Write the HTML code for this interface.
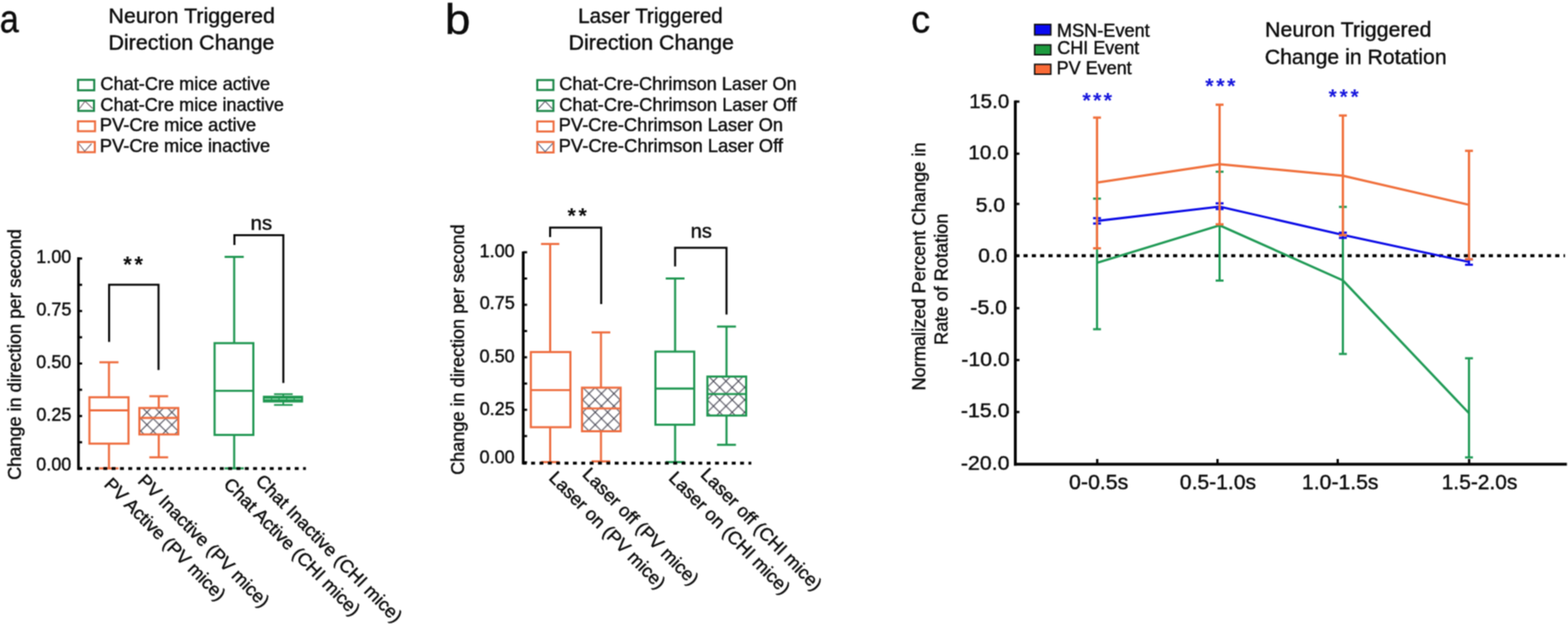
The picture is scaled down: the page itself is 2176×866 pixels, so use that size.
<!DOCTYPE html><html><head><meta charset="utf-8"><style>html,body{margin:0;padding:0;background:#fff;}svg{display:block;}text{font-family:"Liberation Sans", Arial, sans-serif;stroke:#0c0c0c;stroke-width:0.55px;}</style></head><body>
<svg width="2176" height="866" viewBox="0 0 2176 866">
<rect width="2176" height="866" fill="#fff"/>
<filter id="soft" filterUnits="userSpaceOnUse" x="0" y="0" width="2176" height="866" color-interpolation-filters="sRGB"><feConvolveMatrix order="3" kernelMatrix="1 2 1 2 4 2 1 2 1" edgeMode="duplicate"/></filter>
<g filter="url(#soft)">
<defs><pattern id="hatch" patternUnits="userSpaceOnUse" x="221.2" y="572.2" width="17.28" height="17.28"><path d="M-1,-1 L18.28,18.28 M18.28,-1 L-1,18.28" stroke="#3c3c4a" stroke-width="1.3" fill="none"/></pattern></defs>
<text x="-0.31" y="45.1" font-size="56" fill="#0c0c0c" textLength="26.31" lengthAdjust="spacingAndGlyphs">a</text>
<text x="150.48" y="31.7" font-size="29.3" fill="#0c0c0c" textLength="230.92" lengthAdjust="spacingAndGlyphs">Neuron Triggered</text>
<text x="150.45" y="69.3" font-size="29.3" fill="#0c0c0c" textLength="230.37" lengthAdjust="spacingAndGlyphs">Direction Change</text>
<rect x="108.3" y="110.8" width="22.5" height="14.5" fill="none" stroke="#178545" stroke-width="2.8"/>
<rect x="108.7" y="139.6" width="21.7" height="14.3" fill="none" stroke="#178545" stroke-width="2.8"/>
<polyline points="109.7,151.5 118,140.3 128.5,150.5" fill="none" stroke="#6a5560" stroke-width="1.2"/>
<rect x="108.2" y="168.4" width="23.7" height="13.7" fill="none" stroke="#EE6C3E" stroke-width="2.8"/>
<rect x="108.2" y="197" width="23.4" height="14.2" fill="none" stroke="#EE6C3E" stroke-width="2.8"/>
<polyline points="109.5,199.5 117.5,209.8 127,199.5" fill="none" stroke="#6a5560" stroke-width="1.2"/>
<text x="139.22" y="125.4" font-size="25" fill="#0c0c0c" textLength="235.6" lengthAdjust="spacingAndGlyphs">Chat-Cre mice active</text>
<text x="139.22" y="154" font-size="25" fill="#0c0c0c" textLength="254.9" lengthAdjust="spacingAndGlyphs">Chat-Cre mice inactive</text>
<text x="138.42" y="181.8" font-size="25" fill="#0c0c0c" textLength="217.01" lengthAdjust="spacingAndGlyphs">PV-Cre mice active</text>
<text x="138.42" y="210.8" font-size="25" fill="#0c0c0c" textLength="236.4" lengthAdjust="spacingAndGlyphs">PV-Cre mice inactive</text>
<line x1="108.9" y1="357" x2="108.9" y2="652.2" stroke="#050505" stroke-width="3.6"/>
<line x1="108.9" y1="358.8" x2="114" y2="358.8" stroke="#050505" stroke-width="3"/>
<line x1="108.9" y1="395.23" x2="114" y2="395.23" stroke="#050505" stroke-width="3"/>
<line x1="108.9" y1="431.65" x2="114" y2="431.65" stroke="#050505" stroke-width="3"/>
<line x1="108.9" y1="468.08" x2="114" y2="468.08" stroke="#050505" stroke-width="3"/>
<line x1="108.9" y1="504.5" x2="114" y2="504.5" stroke="#050505" stroke-width="3"/>
<line x1="108.9" y1="540.93" x2="114" y2="540.93" stroke="#050505" stroke-width="3"/>
<line x1="108.9" y1="577.35" x2="114" y2="577.35" stroke="#050505" stroke-width="3"/>
<line x1="108.9" y1="613.78" x2="114" y2="613.78" stroke="#050505" stroke-width="3"/>
<line x1="108.9" y1="650.2" x2="114" y2="650.2" stroke="#050505" stroke-width="3"/>
<text x="50.32" y="365.2" font-size="25" fill="#0c0c0c">1.00</text>
<text x="50.39" y="438.2" font-size="25" fill="#0c0c0c">0.75</text>
<text x="50.32" y="510.8" font-size="25" fill="#0c0c0c">0.50</text>
<text x="50.39" y="584.4" font-size="25" fill="#0c0c0c">0.25</text>
<text x="50.32" y="652.9" font-size="25" fill="#0c0c0c">0.00</text>
<text transform="translate(28.6 666.08) rotate(-90)" x="0" y="0" font-size="25" fill="#0c0c0c" textLength="348" lengthAdjust="spacingAndGlyphs">Change in direction per second</text>
<line x1="151.2" y1="502.8" x2="151.2" y2="551.3" stroke="#EE6C3E" stroke-width="2.9"/>
<line x1="151.2" y1="615.7" x2="151.2" y2="650" stroke="#EE6C3E" stroke-width="2.9"/>
<line x1="137.95" y1="502.8" x2="164.45" y2="502.8" stroke="#EE6C3E" stroke-width="2.9"/>
<line x1="137.95" y1="650" x2="164.45" y2="650" stroke="#EE6C3E" stroke-width="2.9"/>
<rect x="124.1" y="551.3" width="54.2" height="64.4" fill="none" stroke="#EE6C3E" stroke-width="2.9"/>
<line x1="124.1" y1="569.5" x2="178.3" y2="569.5" stroke="#EE6C3E" stroke-width="2.9"/>
<line x1="220.3" y1="549.9" x2="220.3" y2="566.2" stroke="#EE6C3E" stroke-width="2.9"/>
<line x1="220.3" y1="602.9" x2="220.3" y2="634.7" stroke="#EE6C3E" stroke-width="2.9"/>
<line x1="207.25" y1="549.9" x2="233.35" y2="549.9" stroke="#EE6C3E" stroke-width="2.9"/>
<line x1="207.25" y1="634.7" x2="233.35" y2="634.7" stroke="#EE6C3E" stroke-width="2.9"/>
<rect x="193.4" y="566.2" width="54" height="36.7" fill="url(#hatch)"/>
<rect x="193.4" y="566.2" width="54" height="36.7" fill="none" stroke="#EE6C3E" stroke-width="2.9"/>
<line x1="193.4" y1="580" x2="247.4" y2="580" stroke="#EE6C3E" stroke-width="2.9"/>
<line x1="325" y1="356.5" x2="325" y2="476.2" stroke="#1E9650" stroke-width="2.9"/>
<line x1="325" y1="603.6" x2="325" y2="650" stroke="#1E9650" stroke-width="2.9"/>
<line x1="311.7" y1="356.5" x2="338.3" y2="356.5" stroke="#1E9650" stroke-width="2.9"/>
<line x1="311.7" y1="650" x2="338.3" y2="650" stroke="#1E9650" stroke-width="2.9"/>
<rect x="297.8" y="476.2" width="53.8" height="127.4" fill="none" stroke="#1E9650" stroke-width="2.9"/>
<line x1="297.8" y1="542.4" x2="351.6" y2="542.4" stroke="#1E9650" stroke-width="2.9"/>
<line x1="393.1" y1="547" x2="393.1" y2="562" stroke="#1E9650" stroke-width="2.2"/>
<line x1="380.3" y1="547" x2="406.2" y2="547" stroke="#1E9650" stroke-width="2.4"/>
<line x1="380.3" y1="562" x2="406.2" y2="562" stroke="#1E9650" stroke-width="2.4"/>
<rect x="364.8" y="549.2" width="55.8" height="9.4" fill="#1E9650"/>
<line x1="367" y1="553.6" x2="418" y2="553.6" stroke="#a8e6bd" stroke-width="1.3" stroke-dasharray="9 1.5"/>
<line x1="108" y1="650.3" x2="424.5" y2="650.3" stroke="#000" stroke-width="4" stroke-dasharray="5.4 6.15" stroke-dashoffset="10.8"/>
<polyline points="151.4,474.4 151.4,395.2 220,395.2 220,513.6" fill="none" stroke="#050505" stroke-width="2.8" stroke-linejoin="miter" stroke-linecap="butt"/>
<polyline points="325.3,339.9 325.3,326.4 393.2,326.4 393.2,531.6" fill="none" stroke="#050505" stroke-width="2.8" stroke-linejoin="miter" stroke-linecap="butt"/>
<text x="171.01 186.41" y="378.28" font-size="30.64" font-weight="bold" fill="#0c0c0c" style="stroke:none">**</text>
<text x="347.72" y="319.1" font-size="27.5" fill="#0c0c0c" textLength="29.9" lengthAdjust="spacingAndGlyphs">ns</text>
<text transform="translate(143.3 673.5) rotate(45.4)" x="0" y="0" font-size="25.4" fill="#0c0c0c">PV Active (PV mice)</text>
<text transform="translate(190.1 668.7) rotate(45.4)" x="0" y="0" font-size="25.4" fill="#0c0c0c">PV Inactive (PV mice)</text>
<text transform="translate(309.1 673.5) rotate(45.4)" x="0" y="0" font-size="25.4" fill="#0c0c0c">Chat Active (CHI mice)</text>
<text transform="translate(353.5 668.7) rotate(45.4)" x="0" y="0" font-size="25.4" fill="#0c0c0c">Chat Inactive (CHI mice)</text>
<text x="617.6" y="46.9" font-size="60" fill="#0c0c0c" textLength="35.37" lengthAdjust="spacingAndGlyphs">b</text>
<text x="802.27" y="31.7" font-size="29.3" fill="#0c0c0c" textLength="200.77" lengthAdjust="spacingAndGlyphs">Laser Triggered</text>
<text x="789.06" y="69.3" font-size="29.3" fill="#0c0c0c" textLength="229.56" lengthAdjust="spacingAndGlyphs">Direction Change</text>
<rect x="745.6" y="111.1" width="22.4" height="13.8" fill="none" stroke="#178545" stroke-width="2.8"/>
<rect x="745.6" y="139.5" width="22.4" height="14.5" fill="none" stroke="#178545" stroke-width="2.8"/>
<polyline points="746.5,151.5 756.5,140.5 766.5,151" fill="none" stroke="#555560" stroke-width="1.2"/>
<rect x="745.6" y="168.6" width="22.6" height="13.9" fill="none" stroke="#EE6C3E" stroke-width="2.8"/>
<rect x="745.6" y="197" width="22.6" height="14.6" fill="none" stroke="#EE6C3E" stroke-width="2.8"/>
<polyline points="746.5,199 756.5,210.5 767,199" fill="none" stroke="#556080" stroke-width="1.2"/>
<text x="776.12" y="125.4" font-size="25" fill="#0c0c0c" textLength="329.52" lengthAdjust="spacingAndGlyphs">Chat-Cre-Chrimson Laser On</text>
<text x="776.12" y="153.8" font-size="25" fill="#0c0c0c" textLength="329.54" lengthAdjust="spacingAndGlyphs">Chat-Cre-Chrimson Laser Off</text>
<text x="775.32" y="182.3" font-size="25" fill="#0c0c0c" textLength="311.33" lengthAdjust="spacingAndGlyphs">PV-Cre-Chrimson Laser On</text>
<text x="775.32" y="210.7" font-size="25" fill="#0c0c0c" textLength="311.34" lengthAdjust="spacingAndGlyphs">PV-Cre-Chrimson Laser Off</text>
<line x1="726.1" y1="349" x2="726.1" y2="644.4" stroke="#050505" stroke-width="3.8"/>
<line x1="726.1" y1="350.1" x2="731.5" y2="350.1" stroke="#050505" stroke-width="3"/>
<line x1="726.1" y1="386.54" x2="731.5" y2="386.54" stroke="#050505" stroke-width="3"/>
<line x1="726.1" y1="422.98" x2="731.5" y2="422.98" stroke="#050505" stroke-width="3"/>
<line x1="726.1" y1="459.41" x2="731.5" y2="459.41" stroke="#050505" stroke-width="3"/>
<line x1="726.1" y1="495.85" x2="731.5" y2="495.85" stroke="#050505" stroke-width="3"/>
<line x1="726.1" y1="532.29" x2="731.5" y2="532.29" stroke="#050505" stroke-width="3"/>
<line x1="726.1" y1="568.73" x2="731.5" y2="568.73" stroke="#050505" stroke-width="3"/>
<line x1="726.1" y1="605.16" x2="731.5" y2="605.16" stroke="#050505" stroke-width="3"/>
<line x1="726.1" y1="641.6" x2="731.5" y2="641.6" stroke="#050505" stroke-width="3"/>
<text x="665.62" y="356.5" font-size="25" fill="#0c0c0c">1.00</text>
<text x="665.69" y="428.8" font-size="25" fill="#0c0c0c">0.75</text>
<text x="665.62" y="502.9" font-size="25" fill="#0c0c0c">0.50</text>
<text x="665.69" y="576" font-size="25" fill="#0c0c0c">0.25</text>
<text x="665.62" y="642.6" font-size="25" fill="#0c0c0c">0.00</text>
<text transform="translate(643.5 659.08) rotate(-90)" x="0" y="0" font-size="25" fill="#0c0c0c" textLength="347.9" lengthAdjust="spacingAndGlyphs">Change in direction per second</text>
<line x1="763.5" y1="338.6" x2="763.5" y2="488.6" stroke="#EE6C3E" stroke-width="2.9"/>
<line x1="763.5" y1="592.9" x2="763.5" y2="641.3" stroke="#EE6C3E" stroke-width="2.9"/>
<line x1="750.8" y1="338.6" x2="776.2" y2="338.6" stroke="#EE6C3E" stroke-width="2.9"/>
<line x1="750.8" y1="641.3" x2="776.2" y2="641.3" stroke="#EE6C3E" stroke-width="2.9"/>
<rect x="736.7" y="488.6" width="54.9" height="104.3" fill="none" stroke="#EE6C3E" stroke-width="2.9"/>
<line x1="736.7" y1="541.4" x2="791.6" y2="541.4" stroke="#EE6C3E" stroke-width="2.9"/>
<line x1="834" y1="461.3" x2="834" y2="538" stroke="#EE6C3E" stroke-width="2.9"/>
<line x1="834" y1="598.5" x2="834" y2="640.3" stroke="#EE6C3E" stroke-width="2.9"/>
<line x1="821.05" y1="461.3" x2="846.95" y2="461.3" stroke="#EE6C3E" stroke-width="2.9"/>
<line x1="821.05" y1="640.3" x2="846.95" y2="640.3" stroke="#EE6C3E" stroke-width="2.9"/>
<rect x="807.7" y="538" width="53.6" height="60.5" fill="url(#hatch)"/>
<rect x="807.7" y="538" width="53.6" height="60.5" fill="none" stroke="#EE6C3E" stroke-width="2.9"/>
<line x1="807.7" y1="566.9" x2="861.3" y2="566.9" stroke="#EE6C3E" stroke-width="2.9"/>
<line x1="936.9" y1="386.5" x2="936.9" y2="488" stroke="#1E9650" stroke-width="2.9"/>
<line x1="936.9" y1="589.4" x2="936.9" y2="641.3" stroke="#1E9650" stroke-width="2.9"/>
<line x1="923.85" y1="386.5" x2="949.95" y2="386.5" stroke="#1E9650" stroke-width="2.9"/>
<line x1="923.85" y1="641.3" x2="949.95" y2="641.3" stroke="#1E9650" stroke-width="2.9"/>
<rect x="909.6" y="488" width="53.8" height="101.4" fill="none" stroke="#1E9650" stroke-width="2.9"/>
<line x1="909.6" y1="539.3" x2="963.4" y2="539.3" stroke="#1E9650" stroke-width="2.9"/>
<line x1="1008.2" y1="453.2" x2="1008.2" y2="522.6" stroke="#1E9650" stroke-width="2.9"/>
<line x1="1008.2" y1="576.7" x2="1008.2" y2="617.3" stroke="#1E9650" stroke-width="2.9"/>
<line x1="995.05" y1="453.2" x2="1021.35" y2="453.2" stroke="#1E9650" stroke-width="2.9"/>
<line x1="995.05" y1="617.3" x2="1021.35" y2="617.3" stroke="#1E9650" stroke-width="2.9"/>
<rect x="981.7" y="522.6" width="53.8" height="54.1" fill="url(#hatch)"/>
<rect x="981.7" y="522.6" width="53.8" height="54.1" fill="none" stroke="#1E9650" stroke-width="2.9"/>
<line x1="981.7" y1="546.9" x2="1035.5" y2="546.9" stroke="#1E9650" stroke-width="2.9"/>
<line x1="726" y1="642.7" x2="1042.6" y2="642.7" stroke="#000" stroke-width="4" stroke-dasharray="5.4 6.2" stroke-dashoffset="0.5"/>
<polyline points="763.4,329 763.4,315.8 834.3,315.8 834.3,422" fill="none" stroke="#050505" stroke-width="2.8" stroke-linejoin="miter" stroke-linecap="butt"/>
<polyline points="936.9,369.7 936.9,343.8 1008.2,343.8 1008.2,436.6" fill="none" stroke="#050505" stroke-width="2.8" stroke-linejoin="miter" stroke-linecap="butt"/>
<text x="787.51 802.72" y="309.32" font-size="29.83" font-weight="bold" fill="#0c0c0c" style="stroke:none">**</text>
<text x="958.55" y="329.7" font-size="27.5" fill="#0c0c0c" textLength="29.46" lengthAdjust="spacingAndGlyphs">ns</text>
<text transform="translate(760.6 664.4) rotate(45.4)" x="0" y="0" font-size="25.4" fill="#0c0c0c">Laser on (PV mice)</text>
<text transform="translate(807 659.5) rotate(45.4)" x="0" y="0" font-size="25.4" fill="#0c0c0c">Laser off (PV mice)</text>
<text transform="translate(926.8 664.7) rotate(45.4)" x="0" y="0" font-size="25.4" fill="#0c0c0c">Laser on (CHI mice)</text>
<text transform="translate(971.1 659.9) rotate(45.4)" x="0" y="0" font-size="25.4" fill="#0c0c0c">Laser off (CHI mice)</text>
<text x="1264.56" y="45.3" font-size="54.5" fill="#0c0c0c" textLength="26.32" lengthAdjust="spacingAndGlyphs">c</text>
<text x="1755.58" y="50.9" font-size="28.6" fill="#0c0c0c" textLength="230.81" lengthAdjust="spacingAndGlyphs">Neuron Triggered</text>
<text x="1755.2" y="88.8" font-size="28.6" fill="#0c0c0c" textLength="252.41" lengthAdjust="spacingAndGlyphs">Change in Rotation</text>
<rect x="1435.8" y="33.9" width="22.5" height="14.6" fill="#0a0af0" stroke="#111" stroke-width="2"/>
<rect x="1435.8" y="62.3" width="22.5" height="13.7" fill="#1d9a3e" stroke="#111" stroke-width="2"/>
<rect x="1435.8" y="89.3" width="22.5" height="13.7" fill="#fa6a36" stroke="#111" stroke-width="2"/>
<text x="1466.63" y="51" font-size="25" fill="#0c0c0c" textLength="128.95" lengthAdjust="spacingAndGlyphs">MSN-Event</text>
<text x="1467.13" y="75.3" font-size="25" fill="#0c0c0c">CHI Event</text>
<text x="1466.35" y="102.5" font-size="25" fill="#0c0c0c">PV Event</text>
<line x1="1409" y1="139.5" x2="1409" y2="646.2" stroke="#050505" stroke-width="4"/>
<line x1="1407" y1="644.3" x2="2174.5" y2="644.3" stroke="#050505" stroke-width="4"/>
<line x1="1409" y1="141" x2="1414.7" y2="141" stroke="#050505" stroke-width="3.2"/>
<line x1="1409" y1="213.3" x2="1414.7" y2="213.3" stroke="#050505" stroke-width="3.2"/>
<line x1="1409" y1="283" x2="1414.7" y2="283" stroke="#050505" stroke-width="3.2"/>
<line x1="1409" y1="355" x2="1414.7" y2="355" stroke="#050505" stroke-width="3.2"/>
<line x1="1409" y1="427.7" x2="1414.7" y2="427.7" stroke="#050505" stroke-width="3.2"/>
<line x1="1409" y1="499.7" x2="1414.7" y2="499.7" stroke="#050505" stroke-width="3.2"/>
<line x1="1409" y1="571.8" x2="1414.7" y2="571.8" stroke="#050505" stroke-width="3.2"/>
<line x1="1522.7" y1="637" x2="1522.7" y2="644" stroke="#050505" stroke-width="3.2"/>
<line x1="1689.6" y1="637" x2="1689.6" y2="644" stroke="#050505" stroke-width="3.2"/>
<line x1="1856.4" y1="637" x2="1856.4" y2="644" stroke="#050505" stroke-width="3.2"/>
<line x1="2038.8" y1="637" x2="2038.8" y2="644" stroke="#050505" stroke-width="3.2"/>
<text x="1345.02" y="150.2" font-size="28.5" fill="#0c0c0c">15.0</text>
<text x="1343.7" y="221.3" font-size="28.5" fill="#0c0c0c" textLength="56.23" lengthAdjust="spacingAndGlyphs">10.0</text>
<text x="1353.92" y="293.6" font-size="28.5" fill="#0c0c0c" textLength="41.03" lengthAdjust="spacingAndGlyphs">5.0</text>
<text x="1357.46" y="363.6" font-size="28.5" fill="#0c0c0c" textLength="40.69" lengthAdjust="spacingAndGlyphs">0.0</text>
<text x="1346.59" y="436.4" font-size="28.5" fill="#0c0c0c" textLength="50.86" lengthAdjust="spacingAndGlyphs">-5.0</text>
<text x="1334.09" y="507.7" font-size="28.5" fill="#0c0c0c" textLength="67.16" lengthAdjust="spacingAndGlyphs">-10.0</text>
<text x="1333.48" y="579.4" font-size="28.5" fill="#0c0c0c" textLength="67.58" lengthAdjust="spacingAndGlyphs">-15.0</text>
<text x="1333.48" y="652.3" font-size="28.5" fill="#0c0c0c" textLength="67.58" lengthAdjust="spacingAndGlyphs">-20.0</text>
<text x="1483.64" y="679.2" font-size="28.8" fill="#0c0c0c" textLength="82.22" lengthAdjust="spacingAndGlyphs">0-0.5s</text>
<text x="1637.36" y="679.2" font-size="28.8" fill="#0c0c0c" textLength="105.7" lengthAdjust="spacingAndGlyphs">0.5-1.0s</text>
<text x="1806.86" y="679.2" font-size="28.8" fill="#0c0c0c" textLength="106.1" lengthAdjust="spacingAndGlyphs">1.0-1.5s</text>
<text x="2000.68" y="679.2" font-size="28.8" fill="#0c0c0c" textLength="105.17" lengthAdjust="spacingAndGlyphs">1.5-2.0s</text>
<text transform="translate(1284 542.07) rotate(-90)" x="0" y="0" font-size="25" fill="#0c0c0c" textLength="344.42" lengthAdjust="spacingAndGlyphs">Normalized Percent Change in</text>
<text transform="translate(1315.2 478.67) rotate(-90)" x="0" y="0" font-size="25" fill="#0c0c0c" textLength="182.31" lengthAdjust="spacingAndGlyphs">Rate of Rotation</text>
<line x1="1409" y1="354.8" x2="2171.8" y2="354.8" stroke="#000" stroke-width="4.2" stroke-dasharray="5.7 5.83" stroke-dashoffset="0.13"/>
<line x1="1522.4" y1="275.7" x2="1522.4" y2="456.9" stroke="#1F9A55" stroke-width="3"/>
<line x1="1516.9" y1="275.7" x2="1527.9" y2="275.7" stroke="#1F9A55" stroke-width="3"/>
<line x1="1516.9" y1="456.9" x2="1527.9" y2="456.9" stroke="#1F9A55" stroke-width="3"/>
<line x1="1692.5" y1="238.3" x2="1692.5" y2="389.4" stroke="#1F9A55" stroke-width="3"/>
<line x1="1687" y1="238.3" x2="1698" y2="238.3" stroke="#1F9A55" stroke-width="3"/>
<line x1="1687" y1="389.4" x2="1698" y2="389.4" stroke="#1F9A55" stroke-width="3"/>
<line x1="1863.6" y1="287.1" x2="1863.6" y2="491.2" stroke="#1F9A55" stroke-width="3"/>
<line x1="1858.1" y1="287.1" x2="1869.1" y2="287.1" stroke="#1F9A55" stroke-width="3"/>
<line x1="1858.1" y1="491.2" x2="1869.1" y2="491.2" stroke="#1F9A55" stroke-width="3"/>
<line x1="2038.6" y1="497.2" x2="2038.6" y2="634.8" stroke="#1F9A55" stroke-width="3"/>
<line x1="2033.1" y1="497.2" x2="2044.1" y2="497.2" stroke="#1F9A55" stroke-width="3"/>
<line x1="2033.1" y1="634.8" x2="2044.1" y2="634.8" stroke="#1F9A55" stroke-width="3"/>
<polyline points="1522.4,364.8 1692.5,312.7 1863.6,389.1 2038.6,573.5" fill="none" stroke="#1F9A55" stroke-width="3.2" stroke-linejoin="round"/>
<line x1="1522.4" y1="302.8" x2="1522.4" y2="310.2" stroke="#0b0be6" stroke-width="3"/>
<line x1="1516.9" y1="302.8" x2="1527.9" y2="302.8" stroke="#0b0be6" stroke-width="3"/>
<line x1="1516.9" y1="310.2" x2="1527.9" y2="310.2" stroke="#0b0be6" stroke-width="3"/>
<line x1="1692.5" y1="282.2" x2="1692.5" y2="290.1" stroke="#0b0be6" stroke-width="3"/>
<line x1="1687" y1="282.2" x2="1698" y2="282.2" stroke="#0b0be6" stroke-width="3"/>
<line x1="1687" y1="290.1" x2="1698" y2="290.1" stroke="#0b0be6" stroke-width="3"/>
<line x1="1863.6" y1="322.9" x2="1863.6" y2="330.1" stroke="#0b0be6" stroke-width="3"/>
<line x1="1858.1" y1="322.9" x2="1869.1" y2="322.9" stroke="#0b0be6" stroke-width="3"/>
<line x1="1858.1" y1="330.1" x2="1869.1" y2="330.1" stroke="#0b0be6" stroke-width="3"/>
<line x1="2038.6" y1="359.9" x2="2038.6" y2="367.4" stroke="#0b0be6" stroke-width="3"/>
<line x1="2033.1" y1="359.9" x2="2044.1" y2="359.9" stroke="#0b0be6" stroke-width="3"/>
<line x1="2033.1" y1="367.4" x2="2044.1" y2="367.4" stroke="#0b0be6" stroke-width="3"/>
<polyline points="1522.4,306.6 1692.5,286.7 1863.6,326 2038.6,363.6" fill="none" stroke="#0b0be6" stroke-width="3.1" stroke-linejoin="round"/>
<line x1="1522.4" y1="163.2" x2="1522.4" y2="344.6" stroke="#F0703C" stroke-width="3.2"/>
<line x1="1516.9" y1="163.2" x2="1527.9" y2="163.2" stroke="#F0703C" stroke-width="3.2"/>
<line x1="1516.9" y1="344.6" x2="1527.9" y2="344.6" stroke="#F0703C" stroke-width="3.2"/>
<line x1="1692.5" y1="145.3" x2="1692.5" y2="311.3" stroke="#F0703C" stroke-width="3.2"/>
<line x1="1687" y1="145.3" x2="1698" y2="145.3" stroke="#F0703C" stroke-width="3.2"/>
<line x1="1687" y1="311.3" x2="1698" y2="311.3" stroke="#F0703C" stroke-width="3.2"/>
<line x1="1863.6" y1="160.3" x2="1863.6" y2="326.4" stroke="#F0703C" stroke-width="3.2"/>
<line x1="1858.1" y1="160.3" x2="1869.1" y2="160.3" stroke="#F0703C" stroke-width="3.2"/>
<line x1="1858.1" y1="326.4" x2="1869.1" y2="326.4" stroke="#F0703C" stroke-width="3.2"/>
<line x1="2038.6" y1="209.3" x2="2038.6" y2="359.8" stroke="#F0703C" stroke-width="3.2"/>
<line x1="2033.1" y1="209.3" x2="2044.1" y2="209.3" stroke="#F0703C" stroke-width="3.2"/>
<line x1="2033.1" y1="359.8" x2="2044.1" y2="359.8" stroke="#F0703C" stroke-width="3.2"/>
<polyline points="1522.4,253.4 1692.5,227.9 1863.6,243.9 2038.6,284.2" fill="none" stroke="#F0703C" stroke-width="3.2" stroke-linejoin="round"/>
<text x="1502.01 1516.81 1531.61" y="148.99" font-size="30.37" font-weight="bold" fill="#1818DD" style="stroke:none">***</text>
<text x="1672.51 1687.66 1702.81" y="128.99" font-size="30.37" font-weight="bold" fill="#1818DD" style="stroke:none">***</text>
<text x="1843.81 1859.02 1874.23" y="143.87" font-size="29.03" font-weight="bold" fill="#1818DD" style="stroke:none">***</text>
</g></svg></body></html>
